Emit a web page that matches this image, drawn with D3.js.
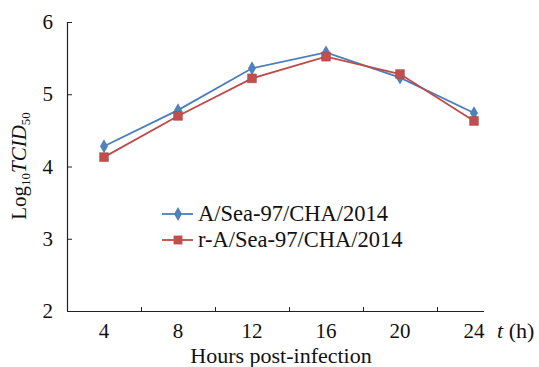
<!DOCTYPE html>
<html><head><meta charset="utf-8">
<script src="https://cdn.jsdelivr.net/npm/d3@7"></script>
<style>body{margin:0;background:#fff}svg{display:block}text{font-family:"Liberation Serif","Times New Roman",serif;fill:#111}</style>
</head><body><svg id="c" width="539" height="367"></svg>
<script>
const categories = ["4","8","12","16","20","24"];
const seriesA = [4.28, 4.78, 5.36, 5.58, 5.23, 4.74];
const seriesR = [4.13, 4.70, 5.22, 5.52, 5.28, 4.63];
const seriesNames = ["A/Sea-97/CHA/2014", "r-A/Sea-97/CHA/2014"];
const yTicks = [2,3,4,5,6];

const svg = d3.select("#c");
const pLeft = 67, pRight = 511, pTop = 22, pBottom = 311;
const xb = d3.scaleBand().domain(categories).range([pLeft, pRight]);
const x = d => xb(d) + xb.bandwidth()/2;
const y = d3.scaleLinear().domain([2,6]).range([pBottom, pTop]);

// axes
svg.append("line").attr("x1",pLeft).attr("x2",484).attr("y1",pBottom+0.5).attr("y2",pBottom+0.5).attr("stroke","#222").attr("stroke-width",1.2);
svg.append("line").attr("x1",pLeft+0.5).attr("x2",pLeft+0.5).attr("y1",pTop).attr("y2",pBottom).attr("stroke","#222").attr("stroke-width",1.2);
yTicks.forEach(t=>{
  svg.append("line").attr("x1",pLeft).attr("x2",pLeft+5).attr("y1",y(t)+0.5).attr("y2",y(t)+0.5).attr("stroke","#222");
  svg.append("text").attr("x",53).attr("y",y(t)).attr("dy","0.34em").attr("text-anchor","end").attr("font-size",21).text(t);
});
categories.slice(1).forEach(c=>{
  svg.append("line").attr("x1",xb(c)+0.5).attr("x2",xb(c)+0.5).attr("y1",pBottom).attr("y2",pBottom-4).attr("stroke","#222");
});
categories.forEach(c=>{
  svg.append("text").attr("x",x(c)).attr("y",338).attr("text-anchor","middle").attr("font-size",21).text(c);
});
const th = svg.append("text").attr("x",497).attr("y",338).attr("font-size",22);
th.append("tspan").attr("font-style","italic").text("t");
th.append("tspan").text(" (h)");
svg.append("text").attr("x",281).attr("y",363).attr("text-anchor","middle").attr("font-size",22).text("Hours post-infection");

const yl = svg.append("text").attr("transform","translate(26,166) rotate(-90)").attr("text-anchor","middle").attr("font-size",21);
yl.append("tspan").text("Log");
yl.append("tspan").attr("font-size",13).attr("dy",4).text("10");
yl.append("tspan").attr("font-style","italic").attr("dy",-4).text("TCID");
yl.append("tspan").attr("font-size",13).attr("dy",4).text("50");

const colors = ["#4A7EBB","#BE4B48"];
const line = d3.line().x((d,i)=>x(categories[i])).y(d=>y(d));
[seriesA, seriesR].forEach((s,k)=>{
  svg.append("path").attr("d",line(s)).attr("fill","none").attr("stroke",colors[k]).attr("stroke-width",1.8);
});
const diamond = d3.symbol().type(d3.symbolDiamond).size(55);
const square = d3.symbol().type(d3.symbolSquare).size(78);
svg.selectAll(".ma").data(seriesA).join("path").attr("d",diamond).attr("fill","#4F81BD")
  .attr("transform",(d,i)=>`translate(${x(categories[i])},${y(d)})`);
svg.selectAll(".mr").data(seriesR).join("path").attr("d",square).attr("fill","#C0504D").attr("stroke","#A6403D").attr("stroke-width",0.5)
  .attr("transform",(d,i)=>`translate(${x(categories[i])},${y(d)})`);

// legend
[0,1].forEach(k=>{
  const ly = 214 + k*26;
  svg.append("line").attr("x1",162).attr("x2",193).attr("y1",ly).attr("y2",ly).attr("stroke",colors[k]).attr("stroke-width",1.8);
  svg.append("path").attr("d",k===0?diamond:square).attr("fill",k===0?"#4F81BD":"#C0504D").attr("transform",`translate(178,${ly})`);
  svg.append("text").attr("x",198).attr("y",ly).attr("dy","0.32em").attr("font-size",22.5).text(seriesNames[k]);
});
</script></body></html>
